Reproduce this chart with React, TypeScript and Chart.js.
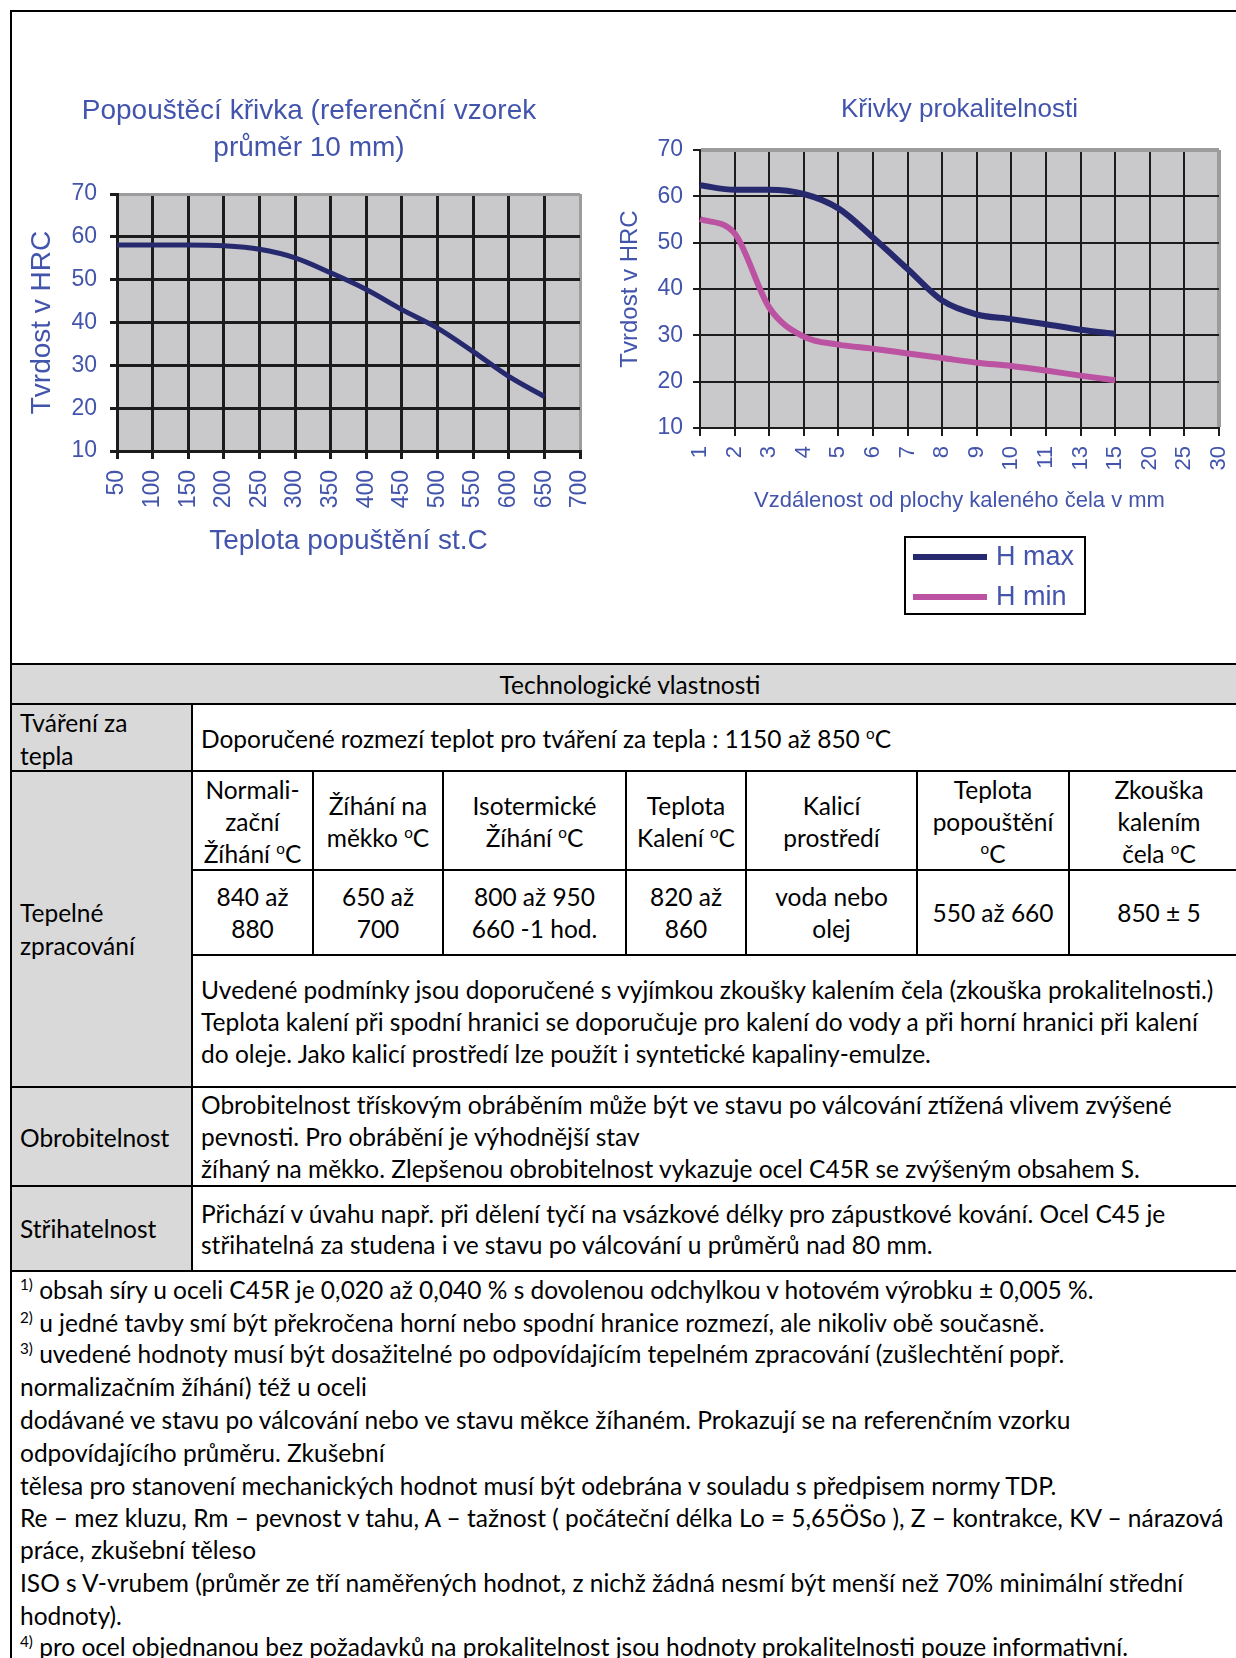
import React, { useEffect, useRef } from "react";
import { Chart, registerables } from "chart.js";

Chart.register(...registerables);

// ---------- DATA ----------
const temperTemps = [50, 100, 150, 200, 250, 300, 350, 400, 450, 500, 550, 600, 650];
const temperHardness = [58.1, 58.1, 58.1, 57.9, 57.1, 55.1, 51.6, 47.7, 43.0, 38.7, 33.2, 27.4, 22.7];
const temperAxisMin = 50;
const temperAxisMax = 700;
const temperAxisStep = 50;

const hardnessAxisMin = 10;
const hardnessAxisMax = 70;
const hardnessAxisStep = 10;

const jominyDistances = ["1", "2", "3", "4", "5", "6", "7", "8", "9", "10", "11", "13", "15", "20", "25", "30"];
const hMaxValues = [62.4, 61.4, 61.4, 60.5, 57.4, 51.1, 44.3, 37.5, 34.5, 33.5, 32.4, 31.2, 30.3];
const hMinValues = [55.1, 52.0, 36.0, 29.7, 28.0, 27.1, 26.1, 25.1, 24.1, 23.4, 22.4, 21.3, 20.3];

const chart1Title = ["Popouštěcí křivka (referenční vzorek", "průměr 10 mm)"];
const chart1XTitle = "Teplota popuštění st.C";
const chart2Title = "Křivky prokalitelnosti";
const chart2XTitle = "Vzdálenost od plochy kaleného čela v mm";
const yTitle = "Tvrdost v HRC";
const seriesNames = ["H max", "H min"];

// ---------- STYLE ----------
const CF = "'Liberation Sans', Arial, sans-serif";
const TF = "Lato, 'Open Sans', sans-serif";
const BLUE = "#4254ab";
const NAVY = "#27296f";
const PINK = "#bb52a2";
const GRID = "#1c1c1c";
const PLOT_BG = "#c9c9cb";
const FRAME = "#9c9c9c";

const plotBg = {
  id: "plotBg",
  beforeDraw(chart: any, _a: any, opts: any) {
    const { ctx, chartArea } = chart;
    if (!chartArea) return;
    ctx.save();
    ctx.fillStyle = opts.color || PLOT_BG;
    ctx.fillRect(chartArea.left, chartArea.top, chartArea.right - chartArea.left, chartArea.bottom - chartArea.top);
    ctx.restore();
  },
};

const boxLegend = {
  id: "boxLegend",
  afterDraw(chart: any, _a: any, opts: any) {
    if (!opts || !opts.display) return;
    const { ctx } = chart;
    ctx.save();
    ctx.strokeStyle = "#000";
    ctx.lineWidth = 2;
    ctx.strokeRect(opts.x, opts.y, opts.w, opts.h);
    chart.data.datasets.forEach((ds: any, i: number) => {
      const cy = opts.y + opts.firstRow + i * opts.rowGap;
      ctx.strokeStyle = ds.borderColor;
      ctx.lineWidth = 6;
      ctx.beginPath();
      ctx.moveTo(opts.x + 8, cy);
      ctx.lineTo(opts.x + 82, cy);
      ctx.stroke();
      ctx.fillStyle = BLUE;
      ctx.font = `${opts.fontSize}px ${CF}`;
      ctx.textBaseline = "middle";
      ctx.textAlign = "left";
      ctx.fillText(ds.label, opts.x + 91, cy + 1);
    });
    ctx.restore();
  },
};

function TemperChart() {
  const ref = useRef<HTMLCanvasElement>(null);
  useEffect(() => {
    if (!ref.current) return;
    const nX = (temperAxisMax - temperAxisMin) / temperAxisStep;
    const nY = (hardnessAxisMax - hardnessAxisMin) / hardnessAxisStep;
    const chart = new Chart(ref.current, {
      type: "line",
      data: {
        datasets: [
          {
            label: "HRC",
            data: temperTemps.map((t, i) => ({ x: t, y: temperHardness[i] })),
            borderColor: NAVY,
            borderWidth: 5,
            pointRadius: 0,
            cubicInterpolationMode: "monotone",
            fill: false,
          },
        ],
      },
      options: {
        animation: false,
        responsive: false,
        events: [],
        layout: { padding: { left: 25, right: 20, top: 0, bottom: 0 } },
        plugins: {
          legend: { display: false },
          tooltip: { enabled: false },
          title: {
            display: true,
            text: chart1Title,
            color: BLUE,
            font: { family: CF, size: 28, weight: "normal", lineHeight: 37 / 28 },
            padding: { top: 80, bottom: 27 },
          },
          plotBg: { color: PLOT_BG },
        } as any,
        scales: {
          x: {
            type: "linear",
            min: temperAxisMin,
            max: temperAxisMax,
            afterFit: (s: any) => {
              s.height = 122;
              s.paddingLeft = 0;
              s.paddingRight = 0;
            },
            ticks: {
              stepSize: temperAxisStep,
              autoSkip: false,
              maxRotation: 90,
              minRotation: 90,
              color: BLUE,
              font: { family: CF, size: 23 },
              padding: 11,
            },
            grid: {
              color: (c: any) => (c.index === nX ? FRAME : GRID),
              lineWidth: 3,
              tickLength: 8,
              tickColor: GRID,
              tickWidth: 3,
            },
            border: { color: GRID, width: 3 },
            title: {
              display: true,
              text: chart1XTitle,
              color: BLUE,
              font: { family: CF, size: 28 },
              padding: { top: 0, bottom: 15 },
            },
          },
          y: {
            min: hardnessAxisMin,
            max: hardnessAxisMax,
            afterFit: (s: any) => {
              s.width = 79;
            },
            ticks: {
              stepSize: hardnessAxisStep,
              color: BLUE,
              font: { family: CF, size: 23 },
              padding: 13,
            },
            grid: {
              color: (c: any) => (c.index === nY ? FRAME : GRID),
              lineWidth: 3,
              tickLength: 7,
              tickColor: GRID,
              tickWidth: 3,
            },
            border: { color: GRID, width: 3 },
            title: {
              display: true,
              text: yTitle,
              color: BLUE,
              font: { family: CF, size: 28 },
              padding: { top: -13, bottom: 0 },
            },
          },
        },
      } as any,
      plugins: [plotBg],
    });
    return () => chart.destroy();
  }, []);
  return (
    <canvas
      ref={ref}
      width={587}
      height={560}
      style={{ position: "absolute", left: 13, top: 13, width: 587, height: 560 }}
    />
  );
}

function JominyChart() {
  const ref = useRef<HTMLCanvasElement>(null);
  useEffect(() => {
    if (!ref.current) return;
    const nY = (hardnessAxisMax - hardnessAxisMin) / hardnessAxisStep;
    const chart = new Chart(ref.current, {
      type: "line",
      data: {
        labels: jominyDistances,
        datasets: [
          {
            label: seriesNames[0],
            data: hMaxValues,
            borderColor: NAVY,
            borderWidth: 6,
            pointRadius: 0,
            cubicInterpolationMode: "monotone",
            fill: false,
          },
          {
            label: seriesNames[1],
            data: hMinValues,
            borderColor: PINK,
            borderWidth: 6,
            pointRadius: 0,
            cubicInterpolationMode: "monotone",
            fill: false,
          },
        ],
      },
      options: {
        animation: false,
        responsive: false,
        events: [],
        layout: { padding: { left: 20, right: 17, top: 0, bottom: 97 } },
        plugins: {
          legend: { display: false },
          tooltip: { enabled: false },
          title: {
            display: true,
            fullSize: false,
            text: chart2Title,
            color: BLUE,
            font: { family: CF, size: 26, weight: "normal", lineHeight: 1.2 },
            padding: { top: 81.4, bottom: 24.4 },
          },
          plotBg: { color: PLOT_BG },
          boxLegend: { display: true, x: 298, y: 524, w: 180, h: 77, firstRow: 20, rowGap: 40, fontSize: 27 },
        } as any,
        scales: {
          x: {
            type: "category",
            offset: false,
            afterFit: (s: any) => {
              s.height = 100;
              s.paddingLeft = 0;
              s.paddingRight = 0;
            },
            ticks: {
              autoSkip: false,
              maxRotation: 90,
              minRotation: 90,
              color: BLUE,
              font: { family: CF, size: 22 },
              padding: 10,
            },
            grid: {
              offset: false,
              color: (c: any) => (c.index === jominyDistances.length - 1 ? FRAME : GRID),
              lineWidth: (c: any) => (c.index === jominyDistances.length - 1 ? 4 : 2),
              tickLength: 8,
              tickColor: GRID,
              tickWidth: 2,
            },
            border: { color: GRID, width: 2 },
            title: {
              display: true,
              text: chart2XTitle,
              color: BLUE,
              font: { family: CF, size: 22 },
              padding: { top: 0, bottom: 13.8 },
            },
          },
          y: {
            min: hardnessAxisMin,
            max: hardnessAxisMax,
            afterFit: (s: any) => {
              s.width = 73;
            },
            ticks: {
              stepSize: hardnessAxisStep,
              color: BLUE,
              font: { family: CF, size: 23 },
              padding: 10,
            },
            grid: {
              color: (c: any) => (c.index === nY ? FRAME : GRID),
              lineWidth: (c: any) => (c.index === nY ? 4 : 2),
              tickLength: 7,
              tickColor: GRID,
              tickWidth: 2,
            },
            border: { color: GRID, width: 2 },
            title: {
              display: true,
              text: yTitle,
              color: BLUE,
              font: { family: CF, size: 24 },
              padding: { top: -11.4, bottom: 0 },
            },
          },
        },
      } as any,
      plugins: [plotBg, boxLegend],
    });
    return () => chart.destroy();
  }, []);
  return (
    <canvas
      ref={ref}
      width={629}
      height={612}
      style={{ position: "absolute", left: 607, top: 13, width: 629, height: 612 }}
    />
  );
}

// ---------- TABLE HELPERS ----------
const FS = 24.5;
const LH = 32;

function Sup({ children }: { children: React.ReactNode }) {
  return (
    <span style={{ fontSize: "0.62em", position: "relative", top: "-0.6em", lineHeight: 0 }}>{children}</span>
  );
}

function HL({ x1, x2, y }: { x1: number; x2: number; y: number }) {
  return <div style={{ position: "absolute", left: x1, top: y - 1, width: x2 - x1, height: 2, background: "#000" }} />;
}
function VL({ x, y1, y2 }: { x: number; y1: number; y2: number }) {
  return <div style={{ position: "absolute", left: x - 1, top: y1, width: 2, height: y2 - y1, background: "#000" }} />;
}
function Txt({ x, y, w, center, children }: { x: number; y: number; w?: number; center?: boolean; children: React.ReactNode }) {
  return (
    <div
      style={{
        position: "absolute",
        left: x,
        top: y - LH / 2,
        width: w,
        height: LH,
        lineHeight: LH + "px",
        textAlign: center ? "center" : "left",
        whiteSpace: "nowrap",
        fontFamily: TF,
        fontSize: FS,
        color: "#000",
      }}
    >
      {children}
    </div>
  );
}

const deg = (
  <>
    <Sup>o</Sup>C
  </>
);

const colX = [192, 313, 443, 626, 746, 917, 1069, 1249];

const headerCells: React.ReactNode[][] = [
  ["Normali-", "zační", <>Žíhání {deg}</>],
  ["Žíhání na", <>měkko {deg}</>],
  ["Isotermické", <>Žíhání {deg}</>],
  ["Teplota", <>Kalení {deg}</>],
  ["Kalicí", "prostředí"],
  ["Teplota", "popouštění", deg],
  ["Zkouška", "kalením", <>čela {deg}</>],
];
const valueCells: string[][] = [
  ["840 až", "880"],
  ["650 až", "700"],
  ["800 až 950", "660 -1 hod."],
  ["820 až", "860"],
  ["voda nebo", "olej"],
  ["550 až 660"],
  ["850 ± 5"],
];
const noteLines = [
  "Uvedené podmínky jsou doporučené s vyjímkou zkoušky kalením čela (zkouška prokalitelnosti.)",
  "Teplota kalení při spodní hranici se doporučuje pro kalení do vody a při horní hranici při kalení",
  "do oleje. Jako kalicí prostředí lze použít i syntetické kapaliny-emulze.",
];
const machLines = [
  "Obrobitelnost třískovým obráběním může být ve stavu po válcování ztížená vlivem zvýšené",
  "pevnosti. Pro obrábění je výhodnější stav",
  "žíhaný na měkko. Zlepšenou obrobitelnost vykazuje ocel C45R se zvýšeným obsahem S.",
];
const shearLines = [
  "Přichází v úvahu např. při dělení tyčí na vsázkové délky pro zápustkové kování. Ocel C45 je",
  "střihatelná za studena i ve stavu po válcování u průměrů nad 80 mm.",
];
const footLines: [string, string][] = [
  ["1)", " obsah síry u oceli C45R je 0,020 až 0,040 % s dovolenou odchylkou v hotovém výrobku ± 0,005 %."],
  ["2)", " u jedné tavby smí být překročena horní nebo spodní hranice rozmezí, ale nikoliv obě současně."],
  ["3)", " uvedené hodnoty musí být dosažitelné po odpovídajícím tepelném zpracování (zušlechtění popř."],
  ["", "normalizačním žíhání) též u oceli"],
  ["", "dodávané ve stavu po válcování nebo ve stavu měkce žíhaném. Prokazují se na referenčním vzorku"],
  ["", "odpovídajícího průměru. Zkušební"],
  ["", "tělesa pro stanovení mechanických hodnot musí být odebrána v souladu s předpisem normy TDP."],
  ["", "Re – mez kluzu, Rm – pevnost v tahu, A – tažnost ( počáteční délka Lo = 5,65ÖSo ), Z – kontrakce, KV – nárazová"],
  ["", "práce, zkušební těleso"],
  ["", "ISO s V-vrubem (průměr ze tří naměřených hodnot, z nichž žádná nesmí být menší než 70% minimální střední"],
  ["", "hodnoty)."],
  ["4)", " pro ocel objednanou bez požadavků na prokalitelnost jsou hodnoty prokalitelnosti pouze informativní."],
];
const footY = [1290, 1323, 1354, 1387, 1420, 1453, 1486, 1518, 1550, 1583, 1616, 1647];

export default function App() {
  const R = 1260;
  return (
    <div
      style={{
        position: "fixed",
        left: 0,
        top: 0,
        width: 1236,
        height: 1658,
        overflow: "hidden",
        background: "#fff",
      }}
    >
      {/* outer frame */}
      <HL x1={10} x2={R} y={11} />
      <VL x={11} y1={10} y2={1658} />

      <TemperChart />
      <JominyChart />

      {/* gray fills */}
      <div style={{ position: "absolute", left: 12, top: 664, width: R, height: 40, background: "#d9d9d9" }} />
      <div style={{ position: "absolute", left: 12, top: 704, width: 180, height: 567, background: "#d9d9d9" }} />

      {/* table lines */}
      <HL x1={10} x2={R} y={664} />
      <HL x1={10} x2={R} y={704} />
      <HL x1={10} x2={R} y={771} />
      <HL x1={192} x2={R} y={870} />
      <HL x1={192} x2={R} y={955} />
      <HL x1={10} x2={R} y={1087} />
      <HL x1={10} x2={R} y={1186} />
      <HL x1={10} x2={R} y={1271} />
      <VL x={192} y1={704} y2={1271} />
      {colX.slice(1, 7).map((x) => (
        <VL key={x} x={x} y1={771} y2={955} />
      ))}

      {/* header */}
      <Txt x={12} y={685} w={1236} center>
        Technologické vlastnosti
      </Txt>

      {/* Tváření */}
      <Txt x={20} y={723}>Tváření za</Txt>
      <Txt x={20} y={756}>tepla</Txt>
      <Txt x={201} y={739}>
        Doporučené rozmezí teplot pro tváření za tepla : 1150 až 850 {deg}
      </Txt>

      {/* Tepelné zpracování */}
      <Txt x={20} y={913}>Tepelné</Txt>
      <Txt x={20} y={946}>zpracování</Txt>
      {headerCells.map((lines, ci) => {
        const n = lines.length;
        const cy = 822;
        return lines.map((ln, li) => (
          <Txt key={`h${ci}-${li}`} x={colX[ci]} w={colX[ci + 1] - colX[ci]} y={cy + (li - (n - 1) / 2) * 32} center>
            {ln}
          </Txt>
        ));
      })}
      {valueCells.map((lines, ci) => {
        const n = lines.length;
        const cy = 913;
        return lines.map((ln, li) => (
          <Txt key={`v${ci}-${li}`} x={colX[ci]} w={colX[ci + 1] - colX[ci]} y={cy + (li - (n - 1) / 2) * 32} center>
            {ln}
          </Txt>
        ));
      })}
      {noteLines.map((ln, i) => (
        <Txt key={`n${i}`} x={201} y={990 + i * 32}>
          {ln}
        </Txt>
      ))}

      {/* Obrobitelnost */}
      <Txt x={20} y={1138}>Obrobitelnost</Txt>
      {machLines.map((ln, i) => (
        <Txt key={`m${i}`} x={201} y={1105 + i * 32}>
          {ln}
        </Txt>
      ))}

      {/* Střihatelnost */}
      <Txt x={20} y={1229}>Střihatelnost</Txt>
      {shearLines.map((ln, i) => (
        <Txt key={`s${i}`} x={201} y={1214 + i * 31}>
          {ln}
        </Txt>
      ))}

      {/* footnotes */}
      {footLines.map(([sup, txt], i) => (
        <Txt key={`f${i}`} x={20} y={footY[i]}>
          {sup ? <Sup>{sup}</Sup> : null}
          {txt}
        </Txt>
      ))}
    </div>
  );
}
